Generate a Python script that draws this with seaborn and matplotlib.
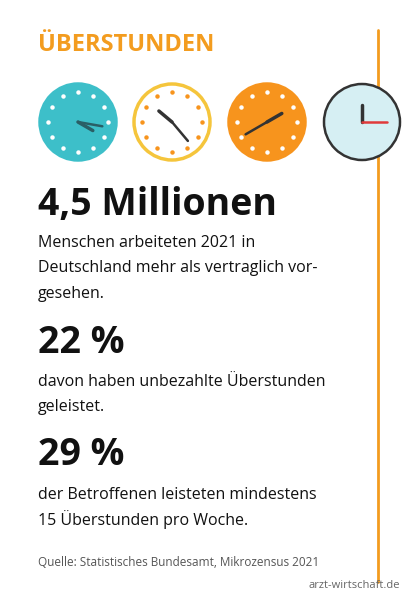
import matplotlib
matplotlib.use("Agg")
import matplotlib.pyplot as plt
import seaborn as sns
import numpy as np
from matplotlib.patches import Circle

sns.set_theme(style="white")
plt.rcParams['font.family'] = ['Open Sans', 'DejaVu Sans']

title = "ÜBERSTUNDEN"
clock_fill = ["#3dbfc9", "#ffffff", "#f7941d", "#d6eff3"]
clock_edge = ["#3dbfc9", "#f5c53c", "#f7941d", "#333333"]
clock_dots = ["#ffffff", "#f7941d", "#ffffff", None]
hour_angle = [120, 310, 60, 0]      # degrees clockwise from 12
minute_angle = [100, 140, 240, 90]
big_values = ["4,5 Millionen", "22 %", "29 %"]
descriptions = [
    ["Menschen arbeiteten 2021 in", "Deutschland mehr als vertraglich vor-", "gesehen."],
    ["davon haben unbezahlte Überstunden", "geleistet."],
    ["der Betroffenen leisteten mindestens", "15 Überstunden pro Woche."],
]
source = "Quelle: Statistisches Bundesamt, Mikrozensus 2021"
credit = "arzt-wirtschaft.de"

fig = plt.figure(figsize=(4.07, 6.0), dpi=100)
ax = fig.add_axes([0, 0, 1, 1])
ax.set_xlim(0, 407); ax.set_ylim(600, 0); ax.axis("off")
orange = "#f39c1f"

ax.text(38, 45, title, color=orange, fontsize=17, fontweight="bold", va="center")
ax.plot([378, 378], [30, 582], color=orange, lw=2)

cx = [78, 172, 267, 362]; cy = 122; r = 38
for i in range(4):
    lw = 1.8 if i == 3 else 2.5
    ax.add_patch(Circle((cx[i], cy), r, facecolor=clock_fill[i], edgecolor=clock_edge[i], lw=lw, zorder=2))
    if clock_dots[i]:
        for k in range(12):
            a = np.deg2rad(k * 30)
            ax.plot(cx[i] + 0.78 * r * np.sin(a), cy - 0.78 * r * np.cos(a), 'o', ms=2.2,
                    color=clock_dots[i], zorder=3)
    hc = "#333333" if i != 0 else "#2a5f66"
    for ang, L, w in [(hour_angle[i], 0.45, 2.5), (minute_angle[i], 0.65, 1.8)]:
        a = np.deg2rad(ang)
        col = "#e03a3a" if (i == 3 and ang == minute_angle[i]) else hc
        ax.plot([cx[i], cx[i] + L * r * np.sin(a)], [cy, cy - L * r * np.cos(a)], color=col, lw=w,
                zorder=4, solid_capstyle="round")

big_y = [205, 343, 455]
desc_y = [[243, 268, 294], [382, 407], [495, 520]]
for v, by, lines, ys in zip(big_values, big_y, descriptions, desc_y):
    ax.text(38, by, v, fontsize=27, fontweight="bold", color="#111111", va="center")
    for t, y in zip(lines, ys):
        ax.text(38, y, t, fontsize=11.5, color="#111111", va="center")

ax.text(38, 563, source, fontsize=8.5, color="#555555", va="center")
ax.text(400, 585, credit, fontsize=8, color="#666666", va="center", ha="right")

fig.savefig("out.png", dpi=100, facecolor="white")
